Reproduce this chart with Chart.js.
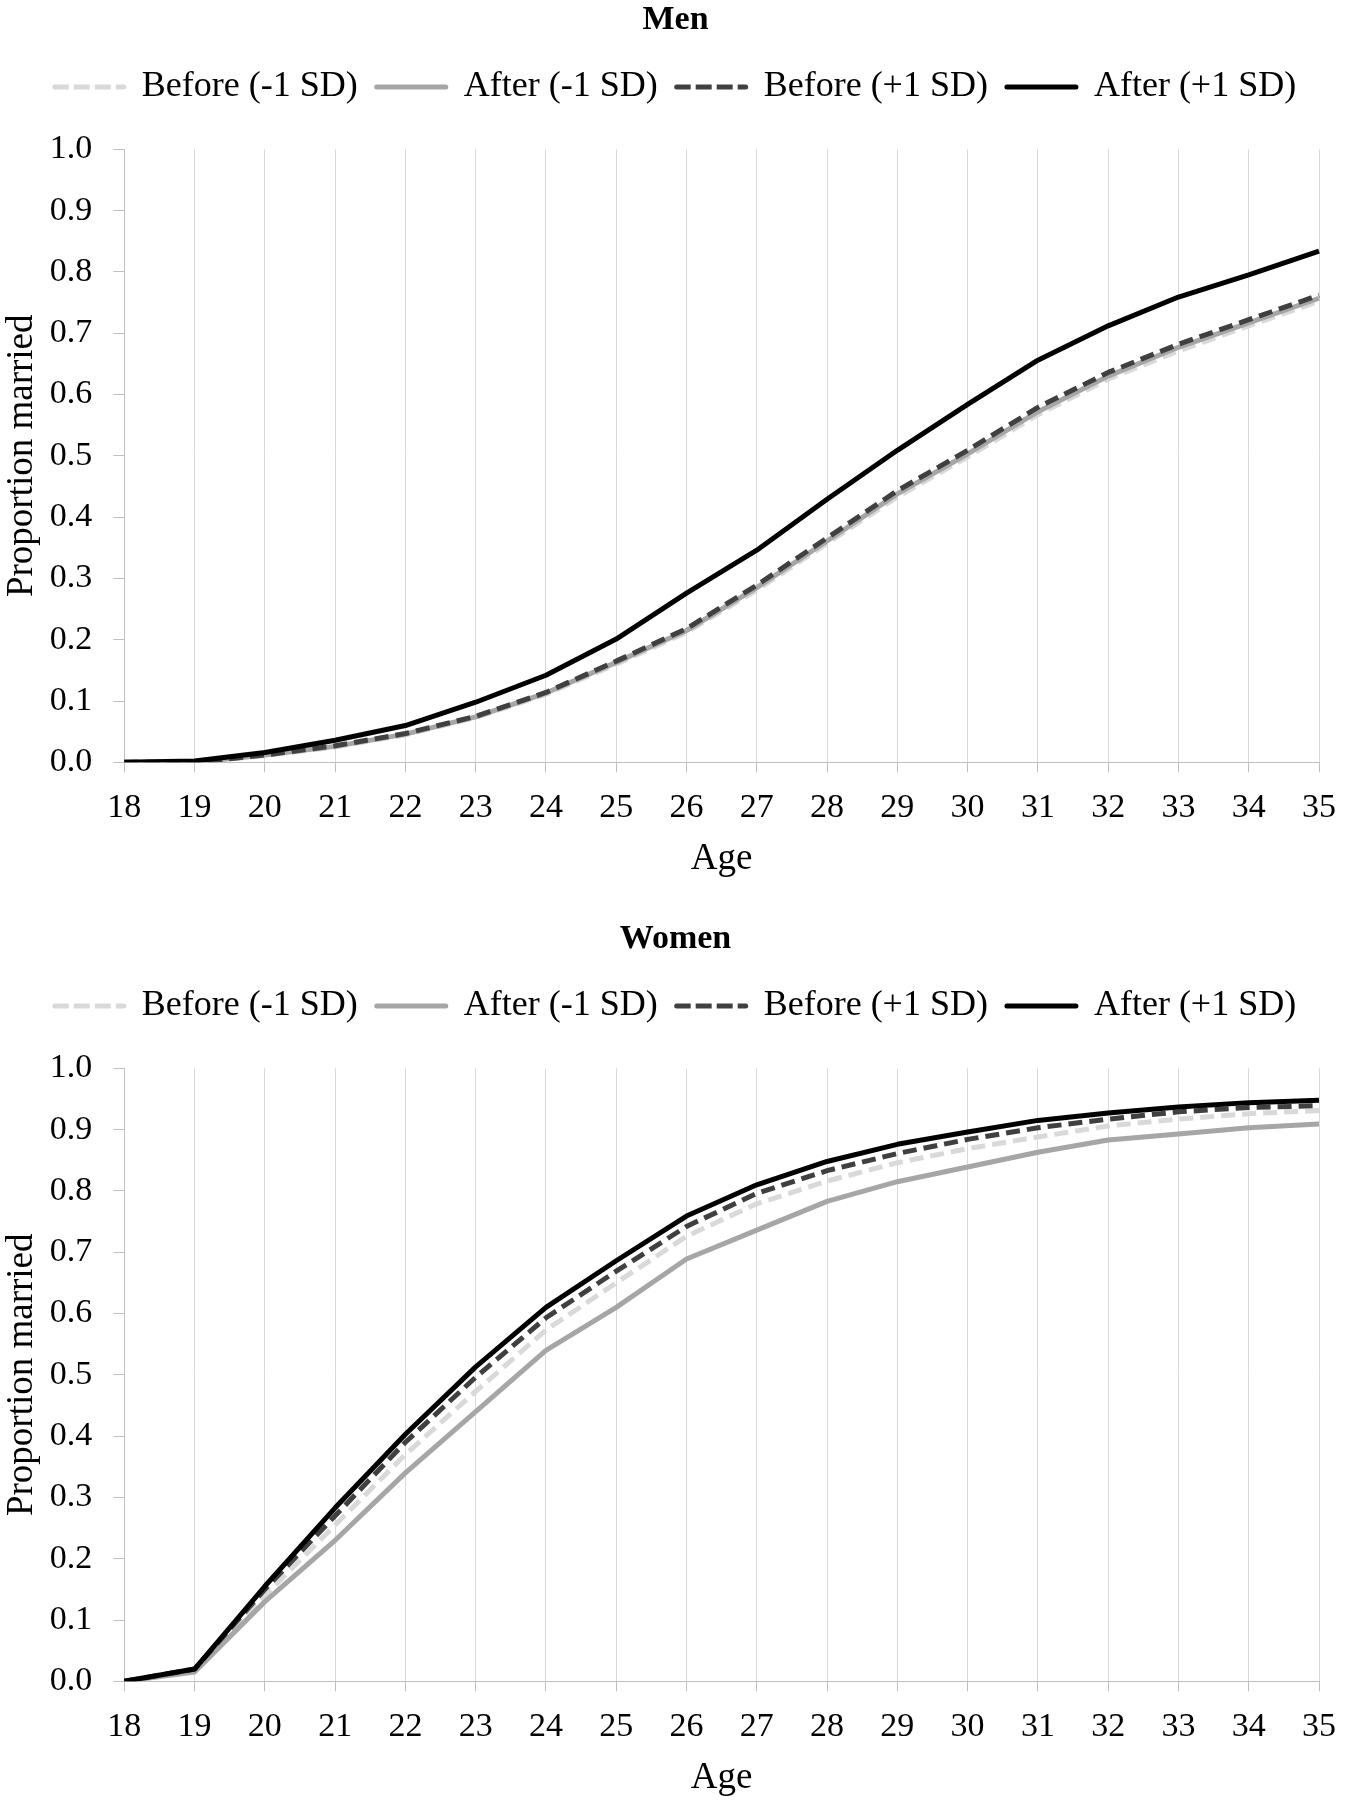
<!DOCTYPE html>
<html>
<head>
<meta charset="utf-8">
<title>Proportion married by age</title>
<script src="https://cdn.jsdelivr.net/npm/chart.js@4.4.1/dist/chart.umd.min.js"></script>
<style>
  html, body { margin: 0; padding: 0; background: #fff; overflow: hidden; }
  .panel { position: absolute; left: 0; width: 1351px; height: 881px; }
  #men-panel { top: 0; }
  #women-panel { top: 919px; }
</style>
</head>
<body>
<div class="panel" id="men-panel"><canvas id="menChart"></canvas></div>
<div class="panel" id="women-panel"><canvas id="womenChart"></canvas></div>

<script>
// Datos
const ages = ['18','19','20','21','22','23','24','25','26','27','28','29','30','31','32','33','34','35'];
const seriesNames = ['Before (-1 SD)', 'After (-1 SD)', 'Before (+1 SD)', 'After (+1 SD)'];
const yTicks = [0, 0.1, 0.2, 0.3, 0.4, 0.5, 0.6, 0.7, 0.8, 0.9, 1.0];

// Hombres
const menBeforeMinus = [0, 0, 0.011, 0.025, 0.045, 0.073, 0.111, 0.160, 0.212, 0.281, 0.357, 0.433, 0.498, 0.567, 0.625, 0.671, 0.712, 0.752];
const menAfterMinus  = [0, 0, 0.012, 0.026, 0.046, 0.074, 0.113, 0.163, 0.215, 0.285, 0.361, 0.438, 0.503, 0.572, 0.630, 0.677, 0.717, 0.757];
const menBeforePlus  = [0, 0, 0.012, 0.027, 0.047, 0.075, 0.114, 0.165, 0.218, 0.289, 0.366, 0.443, 0.509, 0.579, 0.636, 0.682, 0.722, 0.762];
const menAfterPlus   = [0, 0.002, 0.016, 0.036, 0.060, 0.098, 0.142, 0.201, 0.276, 0.346, 0.429, 0.509, 0.584, 0.656, 0.712, 0.759, 0.795, 0.834];

// Mujeres
const womenBeforeMinus = [0, 0.018, 0.140, 0.255, 0.370, 0.473, 0.573, 0.650, 0.726, 0.779, 0.816, 0.846, 0.869, 0.888, 0.906, 0.917, 0.926, 0.931];
const womenAfterMinus  = [0, 0.015, 0.130, 0.230, 0.340, 0.440, 0.540, 0.610, 0.689, 0.736, 0.783, 0.815, 0.839, 0.863, 0.883, 0.893, 0.903, 0.909];
const womenBeforePlus  = [0, 0.020, 0.150, 0.270, 0.390, 0.496, 0.593, 0.669, 0.742, 0.796, 0.833, 0.861, 0.884, 0.903, 0.917, 0.929, 0.936, 0.939];
const womenAfterPlus   = [0, 0.020, 0.155, 0.283, 0.403, 0.513, 0.610, 0.686, 0.759, 0.810, 0.848, 0.876, 0.896, 0.915, 0.927, 0.937, 0.944, 0.948];

Chart.defaults.font.family = "'Liberation Serif', 'Times New Roman', serif";
Chart.defaults.color = '#000';

// estilos de cada serie (como en Excel)
const seriesStyles = [
  { color: '#d9d9d9', dash: [14, 7], order: 4 },
  { color: '#a6a6a6', dash: [],      order: 3 },
  { color: '#404040', dash: [14, 7], order: 2 },
  { color: '#000000', dash: [],      order: 1 }
];

function buildChart(canvasId, titleText, seriesData) {
  const ctx = document.getElementById(canvasId);
  const datasets = seriesData.map((values, i) => ({
    label: seriesNames[i],
    data: values,
    borderColor: seriesStyles[i].color,
    backgroundColor: seriesStyles[i].color,
    borderDash: seriesStyles[i].dash,
    borderWidth: 5,
    borderJoinStyle: 'round',
    pointRadius: 0,
    pointHoverRadius: 0,
    tension: 0,
    fill: false,
    yAxisID: 'y',
    order: seriesStyles[i].order
  }));

  return new Chart(ctx, {
    type: 'line',
    data: { labels: ages, datasets: datasets },
    options: {
      responsive: true,
      maintainAspectRatio: false,
      animation: false,
      layout: { padding: 0 },
      plugins: {
        title: {
          display: true,
          text: titleText,
          font: { size: 34, weight: 'bold' },
          padding: { top: 0, bottom: 9.2 }
        },
        legend: {
          position: 'top',
          weight: 1800,
          labels: {
            boxWidth: 69,
            boxHeight: 0,
            padding: 19,
            font: { size: 36 },
            sort: (a, b) => a.datasetIndex - b.datasetIndex
          }
        },
        // espacio vacío entre la leyenda y el área del gráfico
        subtitle: {
          display: true,
          text: '',
          font: { size: 10, lineHeight: 1 },
          padding: { top: 0, bottom: 24.3 }
        },
        tooltip: { enabled: false }
      },
      scales: {
        x: {
          type: 'category',
          offset: false,
          grid: {
            color: '#d9d9d9',
            tickColor: '#bfbfbf',
            tickLength: 10,
            lineWidth: 1
          },
          border: { color: '#bfbfbf', width: 1 },
          ticks: { font: { size: 34 }, padding: 15, maxRotation: 0, autoSkip: false },
          title: {
            display: true,
            text: 'Age',
            font: { size: 37 },
            padding: { top: 0, bottom: 0 }
          },
          afterFit: scale => { scale.height = 118.7; }
        },
        y: {
          min: 0,
          max: 1,
          afterBuildTicks: scale => { scale.ticks = yTicks.map(v => ({ value: v })); },
          grid: {
            drawOnChartArea: false,
            drawTicks: true,
            tickLength: 11,
            tickColor: '#bfbfbf'
          },
          border: { color: '#bfbfbf', width: 1 },
          ticks: {
            font: { size: 34 },
            padding: 21,
            callback: v => Number(v).toFixed(1)
          },
          title: {
            display: true,
            text: 'Proportion married',
            font: { size: 37 },
            padding: { top: 0, bottom: 0 }
          },
          afterFit: scale => { scale.width = 124.3; }
        },
        // eje vacío a la derecha, solo para dejar margen sin descentrar título y leyenda
        yRight: {
          position: 'right',
          min: 0,
          max: 1,
          grid: { display: false },
          border: { display: false },
          ticks: { display: false },
          afterFit: scale => { scale.width = 21; }
        }
      }
    }
  });
}

document.addEventListener('DOMContentLoaded', function() {
  try {
    buildChart('menChart', 'Men', [menBeforeMinus, menAfterMinus, menBeforePlus, menAfterPlus]);
  } catch (e) {
    console.error('Error en el gráfico de hombres:', e);
  }
  try {
    buildChart('womenChart', 'Women', [womenBeforeMinus, womenAfterMinus, womenBeforePlus, womenAfterPlus]);
  } catch (e) {
    console.error('Error en el gráfico de mujeres:', e);
  }
});
</script>
</body>
</html>
